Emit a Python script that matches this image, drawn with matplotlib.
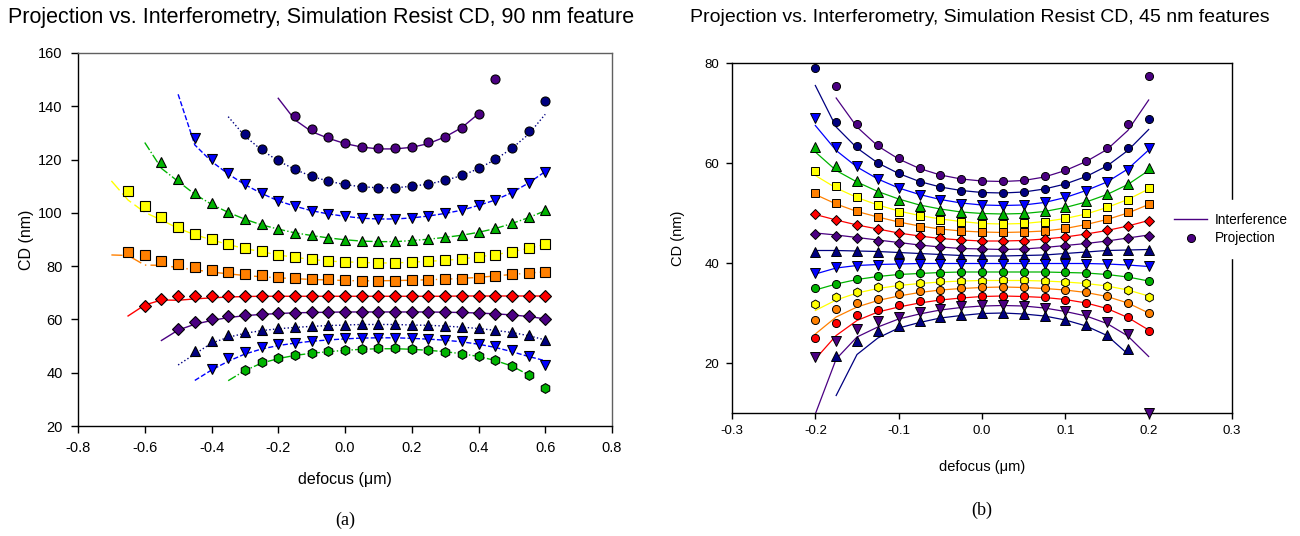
import matplotlib
matplotlib.use("Agg")
import matplotlib.pyplot as plt
from matplotlib.lines import Line2D

plt.rcParams['font.family'] = ['Liberation Sans', 'DejaVu Sans']
plt.rcParams['axes.unicode_minus'] = False

INDIGO = '#4b0082'
NAVY = '#000080'
BLUE = '#0000ff'
GREEN = '#00b400'
YELLOW = '#ffff00'
ORANGE = '#ff8000'
RED = '#ff0000'

# ---------------- (a) 90 nm features ----------------
a_x = [-0.70, -0.65, -0.60, -0.55, -0.50, -0.45, -0.40, -0.35, -0.30, -0.25,
       -0.20, -0.15, -0.10, -0.05, 0.00, 0.05, 0.10, 0.15, 0.20, 0.25,
       0.30, 0.35, 0.40, 0.45, 0.50, 0.55, 0.60]

# projection points: (first defocus, CD values)
a_pts1 = (-0.15, [136.4, 131.5, 128.4, 126.4, 124.8, 124.2, 124.2, 124.8, 126.5, 128.6, 132.0, 137.1, 150.2])
a_pts2 = (-0.30, [129.5, 124.0, 119.7, 116.5, 113.8, 112.0, 110.7, 109.8, 109.5, 109.5, 110.1, 110.8, 112.2,
                  114.1, 116.7, 120.2, 124.5, 130.6, 142.1])
a_pts3 = (-0.45, [128.0, 120.2, 114.9, 110.8, 107.4, 104.6, 102.6, 100.8, 99.6, 98.7, 98.0, 97.7, 97.7, 98.2,
                  98.8, 99.8, 101.0, 102.9, 104.8, 107.6, 111.1, 115.3])
a_pts4 = (-0.55, [119.2, 112.7, 107.6, 103.6, 100.5, 97.8, 95.7, 94.1, 92.6, 91.6, 90.7, 90.0, 89.5, 89.3, 89.3,
                  89.7, 90.2, 90.9, 91.7, 92.8, 94.2, 96.1, 98.3, 100.9])
a_pts5 = (-0.65, [108.2, 102.6, 98.6, 94.8, 92.1, 90.1, 88.2, 86.7, 85.5, 84.2, 83.3, 82.6, 81.9, 81.7, 81.5,
                  81.3, 81.3, 81.6, 81.8, 82.2, 82.7, 83.6, 84.3, 85.4, 86.7, 88.2])
a_pts6 = (-0.65, [85.2, 84.1, 81.9, 80.8, 79.8, 78.7, 77.9, 77.2, 76.6, 76.1, 75.7, 75.3, 75.0, 74.7, 74.6, 74.6,
                  74.6, 74.7, 74.8, 75.1, 75.3, 75.7, 76.2, 77.0, 77.3, 77.9])
a_pts7 = (-0.60, [65.2, 67.7, 68.9, 68.8, 68.8, 68.8, 68.8, 68.8, 68.8, 68.7, 68.7, 68.7, 68.7, 68.7, 68.7,
                  68.7, 68.7, 68.7, 68.7, 68.8, 68.8, 68.8, 68.8, 68.8, 68.8])
a_pts8 = (-0.50, [56.3, 58.9, 60.2, 61.1, 61.7, 62.1, 62.3, 62.6, 62.7, 62.8, 62.9, 62.9, 62.9, 62.9, 62.9, 62.9,
                  62.8, 62.7, 62.6, 62.2, 61.8, 61.2, 60.2])
a_pts9 = (-0.45, [48.3, 51.9, 54.2, 55.2, 56.2, 56.7, 57.2, 57.6, 57.8, 58.0, 58.3, 58.3, 58.2, 58.0, 57.9, 57.7,
                  57.3, 56.7, 56.2, 55.4, 54.3, 52.2])
a_pts10 = (-0.40, [41.3, 45.4, 47.9, 49.6, 50.7, 51.3, 51.9, 52.5, 52.9, 53.2, 53.2, 53.1, 53.0, 52.7, 52.3, 51.9,
                   50.9, 49.9, 48.4, 46.3, 43.0])
a_pts11 = (-0.30, [41.1, 44.1, 45.6, 46.7, 47.5, 48.0, 48.6, 49.0, 49.1, 49.1, 48.9, 48.5, 47.9, 47.1, 46.2, 44.7,
                   42.4, 39.0, 34.2])

# interference curves: (first defocus, CD values)
a_fit1 = (-0.20, [143.0, 134.9, 130.5, 128.0, 126.0, 124.7, 124.0, 124.0, 124.6, 126.0, 128.5, 132.0, 137.2])
a_fit2 = (-0.35, [136.1, 128.8, 123.6, 119.5, 116.3, 113.7, 111.9, 110.6, 109.8, 109.4, 109.4, 110.0, 110.8,
                  112.2, 114.0, 116.6, 120.0, 124.2, 129.5, 137.0])
a_fit3 = (-0.50, [144.5, 125.5, 119.3, 114.6, 110.6, 107.3, 104.5, 102.5, 100.8, 99.6, 98.7, 98.0, 97.7, 97.7,
                  98.1, 98.8, 99.8, 101.0, 102.8, 104.8, 107.6, 111.2, 115.5])
a_fit4 = (-0.60, [126.4, 116.7, 111.8, 107.0, 103.2, 100.2, 97.6, 95.5, 93.9, 92.5, 91.5, 90.6, 89.9, 89.4, 89.2,
                  89.2, 89.6, 90.1, 90.8, 91.6, 92.7, 94.1, 96.0, 98.2, 100.8])
a_fit5 = (-0.70, [112.0, 104.8, 100.2, 97.3, 94.2, 91.8, 89.9, 88.1, 86.6, 85.4, 84.2, 83.3, 82.5, 81.9, 81.6,
                  81.4, 81.2, 81.2, 81.5, 81.8, 82.2, 82.7, 83.5, 84.3, 85.4, 86.7, 88.2])
a_fit6 = (-0.70, [84.2, 84.0, 80.4, 80.3, 79.5, 78.6, 77.8, 77.1, 76.5, 76.0, 75.6, 75.3, 75.0, 74.8, 74.6,
                  74.5, 74.5, 74.6, 74.7, 74.9, 75.1, 75.4, 75.8, 76.3, 76.9, 77.4, 77.9])
a_fit7 = (-0.65, [61.3, 65.4, 67.3, 67.2, 67.7, 68.1, 68.4, 68.6, 68.7, 68.7, 68.7, 68.7, 68.7, 68.7, 68.7,
                  68.7, 68.7, 68.7, 68.7, 68.7, 68.8, 68.8, 68.8, 68.8, 68.8, 68.8])
a_fit8 = (-0.55, [52.1, 56.0, 58.2, 59.6, 60.7, 61.4, 61.9, 62.2, 62.5, 62.6, 62.7, 62.8, 62.8, 62.8, 62.8,
                  62.8, 62.8, 62.7, 62.6, 62.4, 62.1, 61.7, 61.1, 60.2])
a_fit9 = (-0.50, [42.9, 47.0, 51.1, 53.3, 54.8, 55.8, 56.5, 57.0, 57.4, 57.7, 57.9, 58.1, 58.1, 58.1, 57.9,
                  57.8, 57.5, 57.1, 56.6, 55.9, 55.1, 53.9, 52.3])
a_fit10 = (-0.45, [37.1, 41.0, 44.3, 47.0, 48.9, 50.2, 51.1, 51.8, 52.3, 52.7, 53.0, 53.1, 53.1, 52.9, 52.6,
                   52.2, 51.6, 50.7, 49.5, 47.9, 46.1, 44.5])
a_fit11 = (-0.35, [37.0, 40.8, 43.6, 45.3, 46.5, 47.3, 47.9, 48.4, 48.8, 49.0, 49.0, 48.8, 48.4, 47.9, 47.1,
                   46.1, 44.6, 42.5, 39.2])

a_series = [
    (a_pts1, a_fit1, INDIGO, 'o', '-'),
    (a_pts2, a_fit2, NAVY, 'o', ':'),
    (a_pts3, a_fit3, BLUE, 'v', '--'),
    (a_pts4, a_fit4, GREEN, '^', '-.'),
    (a_pts5, a_fit5, YELLOW, 's', (0, (9, 3))),
    (a_pts6, a_fit6, ORANGE, 's', (0, (8, 3, 1, 3))),
    (a_pts7, a_fit7, RED, 'D', '-'),
    (a_pts8, a_fit8, INDIGO, 'D', '-'),
    (a_pts9, a_fit9, NAVY, '^', ':'),
    (a_pts10, a_fit10, BLUE, 'v', '--'),
    (a_pts11, a_fit11, GREEN, 'h', '-.'),
]

# ---------------- (b) 45 nm features ----------------
b_x = [-0.200, -0.175, -0.150, -0.125, -0.100, -0.075, -0.050, -0.025, 0.000,
       0.025, 0.050, 0.075, 0.100, 0.125, 0.150, 0.175, 0.200]

b_pts1 = (-0.175, [75.5, 67.9, 63.7, 61.0, 59.0, 57.7, 56.8, 56.4, 56.4, 56.6, 57.4, 58.6, 60.4, 63.0, 67.8, 77.4])
b_pts2 = (-0.200, [79.0, 68.3, 63.4, 60.1, 58.0, 56.3, 55.2, 54.5, 54.0, 54.0, 54.2, 54.8, 55.8, 57.4, 59.4, 63.0, 68.8])
b_pts3 = (-0.200, [69.0, 63.2, 59.4, 56.8, 55.0, 53.6, 52.6, 51.8, 51.6, 51.5, 51.6, 52.2, 53.2, 54.5, 56.3, 58.7, 63.0])
b_pts4 = (-0.200, [63.3, 59.4, 56.5, 54.3, 52.7, 51.5, 50.7, 50.2, 49.8, 49.8, 50.0, 50.4, 51.2, 52.4, 53.8, 55.8, 59.0])
b_pts5 = (-0.200, [58.4, 55.5, 53.3, 51.6, 50.3, 49.4, 48.6, 48.2, 47.8, 47.8, 48.0, 48.3, 49.0, 50.0, 51.2, 52.7, 55.0])
b_pts6 = (-0.200, [54.0, 52.0, 50.4, 49.2, 48.2, 47.3, 46.7, 46.4, 46.2, 46.2, 46.2, 46.5, 47.0, 47.8, 48.8, 50.2, 51.8])
b_pts7 = (-0.200, [49.8, 48.7, 47.7, 46.8, 46.0, 45.4, 45.0, 44.6, 44.4, 44.5, 44.5, 44.8, 45.3, 45.8, 46.6, 47.5, 48.5])
b_pts8 = (-0.200, [45.8, 45.4, 45.0, 44.5, 44.0, 43.6, 43.2, 43.0, 42.8, 42.8, 42.9, 43.2, 43.5, 44.0, 44.5, 45.0, 45.5])
b_pts9 = (-0.200, [42.2, 42.4, 42.4, 42.3, 42.0, 41.8, 41.6, 41.5, 41.4, 41.4, 41.4, 41.6, 42.0, 42.3, 42.6, 42.6, 42.6])
b_pts10 = (-0.200, [38.0, 39.2, 39.5, 39.6, 39.8, 39.8, 39.8, 39.8, 39.8, 39.8, 39.8, 39.8, 39.8, 39.8, 39.8, 39.8, 39.5])
b_pts11 = (-0.200, [35.0, 35.8, 36.8, 37.5, 37.8, 38.0, 38.1, 38.2, 38.2, 38.2, 38.2, 38.2, 38.2, 38.0, 37.8, 37.4, 36.5])
b_pts12 = (-0.200, [31.8, 33.3, 34.2, 35.2, 35.7, 36.1, 36.4, 36.5, 36.5, 36.6, 36.6, 36.5, 36.3, 36.0, 35.5, 34.7, 33.3])
b_pts13 = (-0.200, [28.6, 30.8, 32.0, 32.8, 33.8, 34.4, 34.7, 35.0, 35.2, 35.2, 35.2, 35.0, 34.6, 34.2, 33.4, 32.0, 30.1])
b_pts14 = (-0.200, [25.0, 28.0, 29.7, 30.7, 31.6, 32.4, 32.8, 33.2, 33.4, 33.5, 33.4, 33.2, 32.7, 32.0, 31.0, 29.2, 26.5])
b_pts15 = (-0.200, [21.3, 24.5, 26.8, 28.4, 29.3, 30.2, 30.8, 31.4, 31.6, 31.6, 31.5, 31.0, 30.4, 29.6, 28.2, 25.8, 10.0])
b_pts16 = (-0.175, [21.5, 24.5, 26.5, 27.5, 28.4, 29.2, 29.7, 30.0, 30.0, 29.8, 29.4, 28.7, 27.6, 25.6, 22.8])

b_fit1 = (-0.175, [73.0, 67.2, 63.4, 60.8, 58.9, 57.6, 56.8, 56.4, 56.3, 56.5, 57.2, 58.5, 60.3, 62.7, 66.5, 72.6])
b_fit2 = (-0.200, [75.5, 67.2, 63.0, 60.0, 57.9, 56.3, 55.2, 54.5, 54.1, 54.0, 54.2, 54.8, 55.8, 57.3, 59.4, 62.5, 66.7])
b_fit3 = (-0.200, [67.5, 62.5, 59.2, 56.8, 55.0, 53.7, 52.7, 52.0, 51.6, 51.5, 51.6, 52.1, 53.1, 54.5, 56.2, 58.8, 62.6])
b_fit4 = (-0.200, [62.2, 58.5, 56.2, 54.3, 52.8, 51.6, 50.8, 50.2, 49.9, 49.8, 49.9, 50.3, 51.1, 52.2, 53.7, 55.7, 58.5])
b_fit5 = (-0.200, [57.5, 55.0, 53.1, 51.6, 50.4, 49.5, 48.8, 48.3, 47.9, 47.8, 47.9, 48.3, 48.9, 49.8, 51.1, 52.7, 54.8])
b_fit6 = (-0.200, [53.7, 51.8, 50.3, 49.2, 48.2, 47.4, 46.8, 46.4, 46.2, 46.1, 46.2, 46.4, 46.9, 47.7, 48.7, 50.0, 51.7])
b_fit7 = (-0.200, [49.7, 48.6, 47.6, 46.8, 46.0, 45.4, 44.9, 44.6, 44.4, 44.4, 44.5, 44.8, 45.2, 45.8, 46.5, 47.4, 48.5])
b_fit8 = (-0.200, [46.0, 45.6, 45.1, 44.6, 44.1, 43.6, 43.2, 42.9, 42.8, 42.7, 42.8, 43.1, 43.5, 43.9, 44.4, 45.0, 45.6])
b_fit9 = (-0.200, [42.5, 42.5, 42.4, 42.3, 42.1, 41.9, 41.7, 41.5, 41.4, 41.4, 41.5, 41.6, 41.9, 42.2, 42.5, 42.6, 42.7])
b_fit10 = (-0.200, [37.8, 39.0, 39.5, 39.7, 39.8, 39.9, 39.9, 39.9, 39.9, 39.9, 39.9, 39.9, 39.9, 39.9, 39.8, 39.6, 39.3])
b_fit11 = (-0.200, [34.6, 35.8, 36.7, 37.3, 37.7, 37.9, 38.1, 38.2, 38.2, 38.2, 38.2, 38.2, 38.1, 38.0, 37.7, 37.2, 36.4])
b_fit12 = (-0.200, [30.5, 32.6, 34.0, 34.9, 35.5, 35.9, 36.2, 36.4, 36.5, 36.5, 36.5, 36.4, 36.2, 35.9, 35.4, 34.6, 33.4])
b_fit13 = (-0.200, [25.8, 29.2, 31.2, 32.5, 33.4, 34.1, 34.6, 34.9, 35.1, 35.2, 35.1, 34.9, 34.6, 34.1, 33.3, 32.0, 30.0])
b_fit14 = (-0.200, [20.8, 25.5, 28.5, 30.2, 31.2, 32.0, 32.6, 33.0, 33.3, 33.4, 33.3, 33.1, 32.7, 32.0, 30.9, 29.1, 26.6])
b_fit15 = (-0.200, [9.8, 20.8, 25.2, 27.2, 28.8, 29.8, 30.6, 31.1, 31.4, 31.5, 31.4, 31.0, 30.3, 29.4, 27.9, 25.4, 21.3])
b_fit16 = (-0.175, [13.5, 21.7, 25.0, 27.0, 28.1, 29.0, 29.5, 29.9, 30.0, 29.8, 29.4, 28.6, 27.4, 25.5, 21.8])

b_series = [
    (b_pts1, b_fit1, INDIGO, 'o'),
    (b_pts2, b_fit2, NAVY, 'o'),
    (b_pts3, b_fit3, BLUE, 'v'),
    (b_pts4, b_fit4, GREEN, '^'),
    (b_pts5, b_fit5, YELLOW, 's'),
    (b_pts6, b_fit6, ORANGE, 's'),
    (b_pts7, b_fit7, RED, 'D'),
    (b_pts8, b_fit8, INDIGO, 'D'),
    (b_pts9, b_fit9, NAVY, '^'),
    (b_pts10, b_fit10, BLUE, 'v'),
    (b_pts11, b_fit11, GREEN, 'o'),
    (b_pts12, b_fit12, YELLOW, 'h'),
    (b_pts13, b_fit13, ORANGE, 'o'),
    (b_pts14, b_fit14, RED, 'o'),
    (b_pts15, b_fit15, INDIGO, 'v'),
    (b_pts16, b_fit16, NAVY, '^'),
]

msize_a = {'o': 6.5, 'v': 7.5, '^': 7.5, 's': 6.5, 'D': 5.8, 'h': 7.0}
msize_b = {'o': 5.8, 'v': 6.6, '^': 6.6, 's': 5.8, 'D': 5.2, 'h': 6.4}


def xs_for(grid, start, n):
    i0 = min(range(len(grid)), key=lambda i: abs(grid[i] - start))
    return grid[i0:i0 + n]


fig = plt.figure(figsize=(13, 5.36), dpi=100)

ax1 = fig.add_axes([78 / 1300, 1 - 426 / 536, 534 / 1300, 373 / 536])
ax2 = fig.add_axes([732 / 1300, 1 - 413 / 536, 500 / 1300, 350 / 536])

for pts, fit, col, mk, ls in a_series:
    ax1.plot(xs_for(a_x, fit[0], len(fit[1])), fit[1], color=col, ls=ls, lw=1.0, zorder=2)
for pts, fit, col, mk, ls in a_series:
    ax1.plot(xs_for(a_x, pts[0], len(pts[1])), pts[1], ls='none', marker=mk, ms=msize_a[mk],
             mfc=col, mec='black', mew=0.8, zorder=3)

for pts, fit, col, mk in b_series:
    ax2.plot(xs_for(b_x, fit[0], len(fit[1])), fit[1], color=col, lw=0.9, zorder=2)
for pts, fit, col, mk in b_series:
    ax2.plot(xs_for(b_x, pts[0], len(pts[1])), pts[1], ls='none', marker=mk, ms=msize_b[mk],
             mfc=col, mec='black', mew=0.7, zorder=3, clip_on=False)

ax1.set_xlim(-0.8, 0.8)
ax1.set_ylim(20, 160)
ax1.set_xticks([-0.8, -0.6, -0.4, -0.2, 0.0, 0.2, 0.4, 0.6, 0.8])
ax1.set_yticks([20, 40, 60, 80, 100, 120, 140, 160])
ax1.xaxis.set_major_formatter(plt.FormatStrFormatter('%.1f'))
ax1.tick_params(direction='out', length=5, width=1, labelsize=10.5, pad=6)
for s in ax1.spines.values():
    s.set_linewidth(1.0)
ax1.spines['top'].set_color('#606060')
ax1.spines['right'].set_color('#606060')
ax1.set_xlabel('defocus (\u03bcm)', fontsize=11.5, labelpad=12)
ax1.set_ylabel('CD (nm)', fontsize=11.5, labelpad=3)

ax2.set_xlim(-0.3, 0.3)
ax2.set_ylim(10, 80)
ax2.set_xticks([-0.3, -0.2, -0.1, 0.0, 0.1, 0.2, 0.3])
ax2.set_yticks([20, 40, 60, 80])
ax2.xaxis.set_major_formatter(plt.FormatStrFormatter('%.1f'))
ax2.tick_params(direction='out', length=4, width=1, labelsize=9.5, pad=5)
for s in ax2.spines.values():
    s.set_linewidth(1.0)
ax2.set_xlabel('defocus (\u03bcm)', fontsize=10.5, labelpad=16)
ax2.set_ylabel('CD (nm)', fontsize=10.5, labelpad=14)

fig.text(8 / 1300, 1 - 18 / 536, 'Projection vs. Interferometry, Simulation Resist CD, 90 nm feature',
         fontsize=15.5, ha='left', va='center')
fig.text(690 / 1300, 1 - 18 / 536, 'Projection vs. Interferometry, Simulation Resist CD, 45 nm features',
         fontsize=14, ha='left', va='center')

fig.text(345 / 1300, 1 - 520 / 536, '(a)', fontsize=13, family='Liberation Serif', ha='center', va='center')
fig.text(982 / 1300, 1 - 510 / 536, '(b)', fontsize=13, family='Liberation Serif', ha='center', va='center')

handles = [Line2D([], [], color=INDIGO, lw=1.0),
           Line2D([], [], ls='none', marker='o', ms=5.8, mfc=INDIGO, mec='black', mew=0.7)]
leg = fig.legend(handles, ['Interference', 'Projection'], loc='center left',
                 bbox_to_anchor=(1162 / 1300, 1 - 229 / 536), fontsize=9.8, frameon=True,
                 facecolor='white', edgecolor='white', framealpha=1, fancybox=False,
                 handlelength=2.4, handletextpad=0.6, labelspacing=0.35, borderpad=0.9,
                 borderaxespad=0)

fig.savefig('out.png', dpi=100)
